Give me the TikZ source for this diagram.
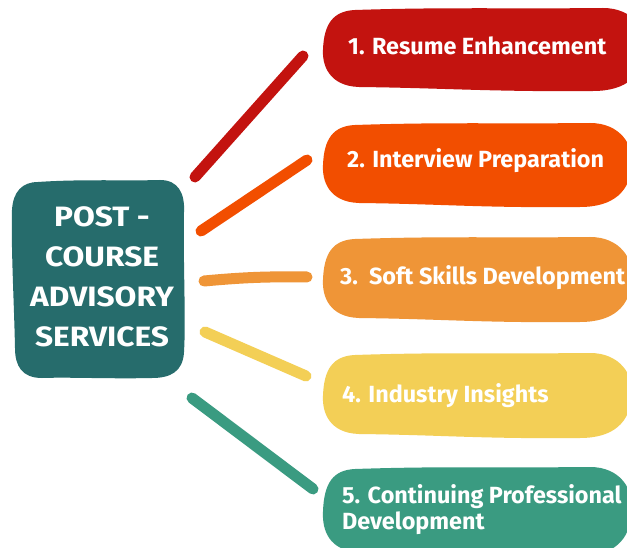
\documentclass[tikz,border=0pt]{standalone}
\usepackage{fontspec}
\setmainfont{Fira Sans}
\begin{document}
\definecolor{hubteal}{RGB}{38,108,108}
\definecolor{cRed}{RGB}{195,19,15}
\definecolor{cOrange}{RGB}{242,78,0}
\definecolor{cAmber}{RGB}{239,149,55}
\definecolor{cYellow}{RGB}{243,207,86}
\definecolor{cGreen}{RGB}{58,155,129}
% hand-drawn looking rounded banner: colour, left, top, right, bottom
\newcommand\brushblob[5]{%
  \fill[#1] ({#2+32},{#3+2})
    .. controls ({#2+120},{#3-1}) and ({#4-130},{#3+1}) .. ({#4-42},{#3})
    .. controls ({#4-12},{#3}) and ({#4+2},{#3+22}) .. ({#4},{(#3+#5)/2})
    .. controls ({#4-2},{#5-16}) and ({#4-18},{#5}) .. ({#4-52},{#5})
    .. controls ({#4-150},{#5+1}) and ({#2+120},{#5-3}) .. ({#2+36},{#5-4})
    .. controls ({#2+6},{#5-5}) and ({#2-1},{#5-26}) .. ({#2},{(#3+#5)/2})
    .. controls ({#2+1},{#3+16}) and ({#2+10},{#3+3}) .. ({#2+32},{#3+2}) -- cycle;}
\newcommand\hubline[1]{\scalebox{1.13}[1]{#1}}
\begin{tikzpicture}[x=1pt,y=-1pt,
  spoke/.style={line width=11pt,line cap=round},
  label/.style={text=white,font=\bfseries\fontsize{23.4}{26}\selectfont,inner sep=0pt,anchor=west,align=left},
  hubtext/.style={text=white,font=\bfseries\fontsize{28}{40}\selectfont,align=center,inner sep=0pt}]
\useasboundingbox (0,0) rectangle (627,548);
\fill[white] (0,0) rectangle (627,548);

% central box
\fill[hubteal] (38,182)
  .. controls (80,179) and (130,181) .. (160,180)
  .. controls (178,180) and (185,193) .. (184,212)
  .. controls (183,260) and (186,320) .. (184,352)
  .. controls (183,372) and (170,378) .. (152,378)
  .. controls (110,379) and (70,377) .. (42,378)
  .. controls (22,378) and (15,366) .. (15,348)
  .. controls (14,300) and (11,250) .. (12,210)
  .. controls (13,192) and (22,182) .. (38,182) -- cycle;
\node[hubtext] (hub) at (102,277) {\hubline{POST -}\\\hubline{COURSE}\\\hubline{ADVISORY}\\\hubline{SERVICES}};

% banners
\brushblob{cRed}{323}{8}{645}{91}
\brushblob{cOrange}{323}{123}{632}{207}
\brushblob{cAmber}{323}{237}{632}{322}
\brushblob{cYellow}{323}{353}{632}{438}
\brushblob{cGreen}{323}{467}{632}{556}

\node[label] (b1) at (348,46) {1. Resume Enhancement};
\node[label] (b2) at (347,161) {2. Interview Preparation};
\node[label] (b3) at (340,278) {3.\ \ Soft Skills Development};
\node[label] (b4) at (342,396) {4. Industry Insights};
\node[label] (b5) at (342,510) {5. Continuing Professional\\Development};

% spokes
\coordinate (s1a) at (195,177); \coordinate (s1b) at (303,56);
\coordinate (s2a) at (201,231); \coordinate (s2b) at (307,160);
\coordinate (s3a) at (204,281); \coordinate (s3b) at (307,277);
\coordinate (s4a) at (205,332); \coordinate (s4b) at (306,376);
\coordinate (s5a) at (192,398); \coordinate (s5b) at (313,489);
\draw[spoke,cRed] (s1a) -- (s1b);
\draw[spoke,cOrange] (s2a) -- (s2b);
\draw[spoke,cAmber] (s3a) to[bend left=3] (s3b);
\draw[spoke,cYellow] (s4a) -- (s4b);
\draw[spoke,cGreen] (s5a) -- (s5b);
\end{tikzpicture}
\end{document}
